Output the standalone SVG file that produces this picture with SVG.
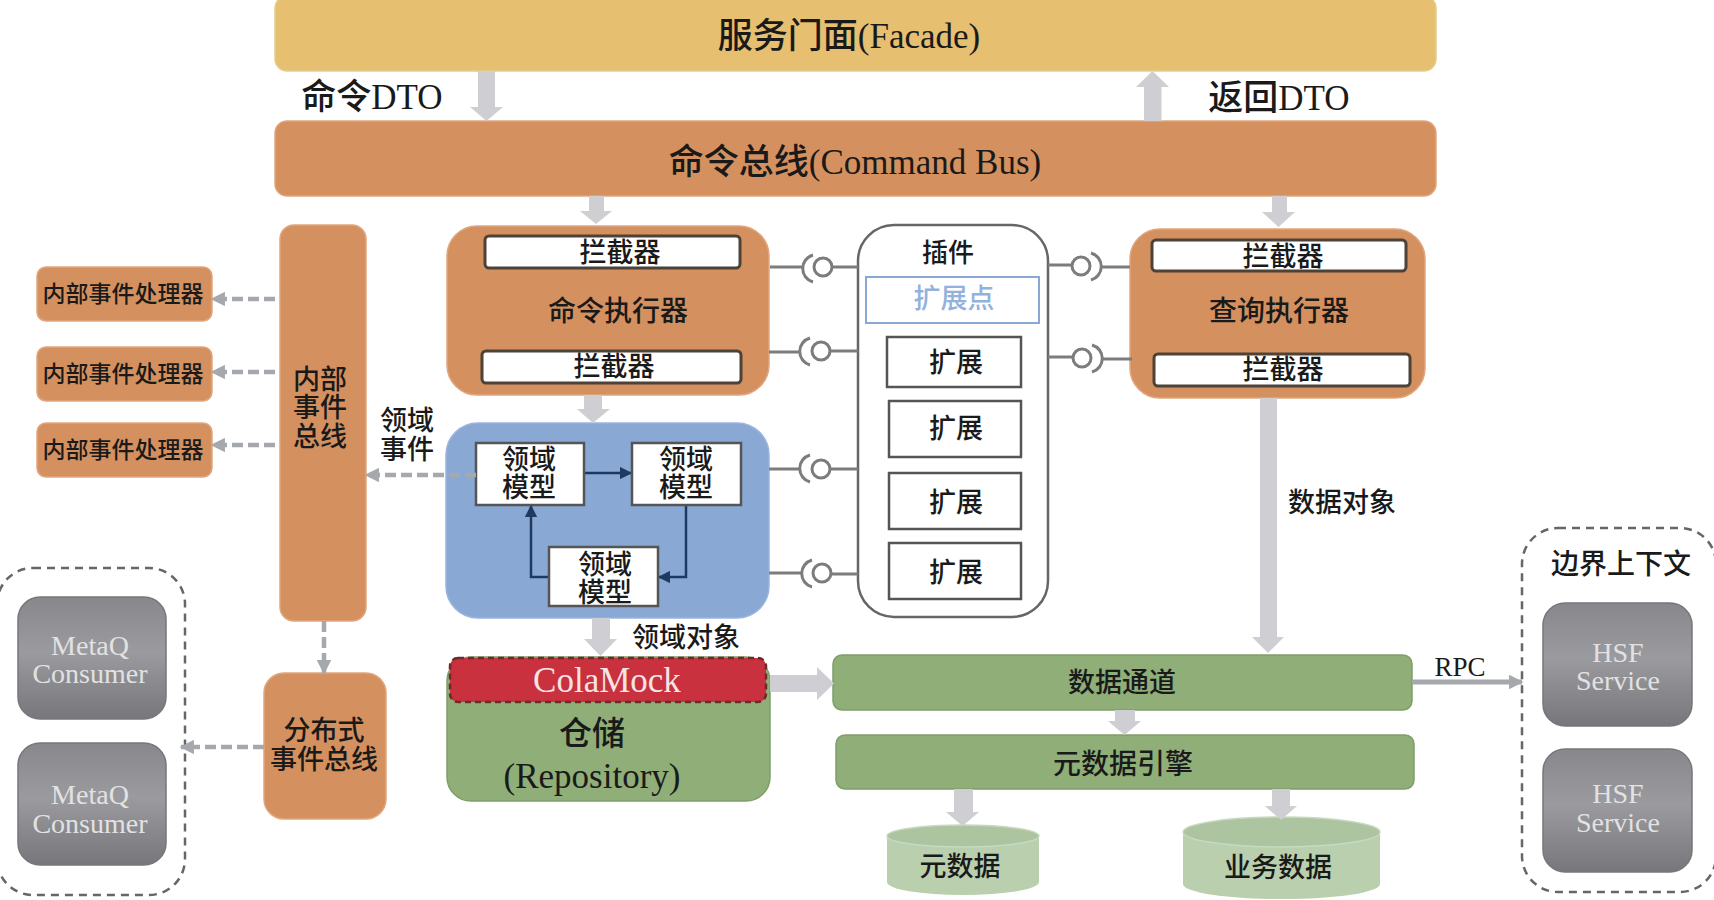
<svg xmlns="http://www.w3.org/2000/svg" width="1714" height="900" viewBox="0 0 1714 900" font-size="27">
<style>
text{font-family:"Liberation Serif","Noto Sans CJK SC",serif;text-anchor:middle;dominant-baseline:central;fill:#1a1a1a;font-weight:500}
.orange{fill:#d4915f;stroke:#e0a67e;stroke-width:1.5}
.green{fill:#8fae78;stroke:#7f9f6a;stroke-width:1.5}
.white{fill:#fff;stroke:#555;stroke-width:2.5}
.int{fill:#fff;stroke:#4d4238;stroke-width:3}
.grey{fill:url(#g);stroke:#77777b;stroke-width:1.5}
.lt{fill:#e2e2e2;font-size:28px}
.thick{fill:#cfcfd3}
.dash{fill:none;stroke:#a5a8ad;stroke-width:4.5;stroke-dasharray:11 5}
.bound{fill:none;stroke:#666;stroke-width:2.5;stroke-dasharray:8 6}
.dark{fill:none;stroke:#1f3a60;stroke-width:2.5}
.lol{fill:none;stroke:#7c7c7c;stroke-width:3}
.cyl{fill:#b9cfae}
.cyltop{fill:#acc4a0;stroke:#c8d9c0;stroke-width:1.5}
</style>
<defs>
<linearGradient id="g" x1="0" y1="0" x2="0" y2="1"><stop offset="0" stop-color="#88888c"/><stop offset=".45" stop-color="#9a9a9f"/><stop offset="1" stop-color="#77777b"/></linearGradient>
<marker id="da" viewBox="0 0 10 10" refX="9" refY="5" markerWidth="3.2" markerHeight="3.2" orient="auto"><path d="M0 0L10 5L0 10Z" fill="#a5a8ad"/></marker>
<marker id="ka" viewBox="0 0 10 10" refX="9" refY="5" markerWidth="5" markerHeight="5" orient="auto"><path d="M0 0L10 5L0 10Z" fill="#1f3a60"/></marker>
<marker id="ra" viewBox="0 0 10 10" refX="9" refY="5" markerWidth="3" markerHeight="3" orient="auto"><path d="M0 0L10 5L0 10Z" fill="#a5a8ad"/></marker>
</defs>

<g id="facade">
<rect x="275" y="-4" width="1161" height="75" rx="12" fill="#e6bf70" stroke="#e6cd8e" stroke-width="1.500"/>
<text x="849" y="36" font-size="35">服务门面(Facade)</text>
</g>
<text id="label-cmd-dto" x="372" y="97" font-size="35">命令DTO</text>
<text id="label-ret-dto" x="1279" y="98" font-size="35">返回DTO</text>
<g id="command-bus">
<rect class="orange" x="275" y="121" width="1161" height="75" rx="12"/>
<text x="855" y="162" font-size="35">命令总线(Command Bus)</text>
</g>

<g id="internal-bus">
<rect class="orange" x="280" y="225" width="86" height="396" rx="14"/>
<text x="320" y="380">内部</text><text x="320" y="408">事件</text><text x="320" y="437">总线</text>
</g>
<g id="handler-1"><rect class="orange" x="37" y="267" width="175" height="54" rx="9"/><text x="123" y="294" font-size="23">内部事件处理器</text></g>
<g id="handler-2"><rect class="orange" x="37" y="347" width="175" height="54" rx="9"/><text x="123" y="374" font-size="23">内部事件处理器</text></g>
<g id="handler-3"><rect class="orange" x="37" y="423" width="175" height="54" rx="9"/><text x="123" y="450" font-size="23">内部事件处理器</text></g>
<g id="label-domain-event"><text x="407" y="421">领域</text><text x="407" y="450">事件</text></g>

<g id="command-executor">
<rect class="orange" x="447" y="226" width="322" height="169" rx="30"/>
<rect class="int" x="485" y="236" width="255" height="32" rx="4"/>
<text x="620" y="253">拦截器</text>
<text x="618" y="311" font-size="28">命令执行器</text>
<rect class="int" x="482" y="351" width="259" height="32" rx="4"/>
<text x="614" y="367">拦截器</text>
</g>

<g id="domain">
<rect x="446" y="423" width="323" height="195" rx="32" fill="#8aa8d4" stroke="#9ab4da" stroke-width="1.500"/>
<path class="dark" d="M584 473H631" marker-end="url(#ka)"/>
<path class="dark" d="M686 505V577H659" marker-end="url(#ka)"/>
<path class="dark" d="M549 577H531V506" marker-end="url(#ka)"/>
<g id="model-1"><rect class="white" x="476" y="443" width="108" height="62"/><text x="529" y="460">领域</text><text x="529" y="488">模型</text></g>
<g id="model-2"><rect class="white" x="632" y="443" width="109" height="62"/><text x="686" y="460">领域</text><text x="686" y="488">模型</text></g>
<g id="model-3"><rect class="white" x="549" y="547" width="109" height="59"/><text x="605" y="565">领域</text><text x="605" y="593">模型</text></g>
</g>

<g id="plugin">
<rect x="858" y="225" width="190" height="392" rx="36" fill="#fff" stroke="#666" stroke-width="2.500"/>
<text x="948" y="253" font-size="26">插件</text>
<rect x="866" y="277" width="173" height="46" fill="#fff" stroke="#8aa8d4" stroke-width="2"/>
<text x="954" y="299" style="fill:#92b2dd">扩展点</text>
<g id="ext-1"><rect class="white" x="887" y="337" width="134" height="50"/><text x="956" y="363">扩展</text></g>
<g id="ext-2"><rect class="white" x="889" y="401" width="132" height="56"/><text x="956" y="429">扩展</text></g>
<g id="ext-3"><rect class="white" x="889" y="473" width="132" height="56"/><text x="956" y="503">扩展</text></g>
<g id="ext-4"><rect class="white" x="889" y="543" width="132" height="56"/><text x="956" y="573">扩展</text></g>
</g>

<g id="query-executor">
<rect class="orange" x="1130" y="229" width="295" height="169" rx="30"/>
<rect class="int" x="1152" y="240" width="254" height="31" rx="4"/>
<text x="1283" y="257">拦截器</text>
<text x="1279" y="311" font-size="28">查询执行器</text>
<rect class="int" x="1154" y="354" width="256" height="32" rx="4"/>
<text x="1283" y="370">拦截器</text>
</g>
<text id="label-data-object" x="1342" y="503">数据对象</text>
<text id="label-domain-object" x="686" y="638">领域对象</text>

<g id="repository">
<rect class="green" x="447" y="657" width="323" height="144" rx="24"/>
<rect x="450" y="658" width="316" height="44" rx="8" fill="#c8313d" stroke="#6e2a2a" stroke-width="2.500" stroke-dasharray="6 4"/>
<text x="607" y="680" font-size="35" style="fill:#f4e4e4">ColaMock</text>
<text x="592" y="734" font-size="33">仓储</text>
<text x="592" y="776" font-size="35">(Repository)</text>
</g>

<g id="data-channel"><rect class="green" x="833" y="655" width="579" height="55" rx="9"/><text x="1122" y="683">数据通道</text></g>
<g id="meta-engine"><rect class="green" x="836" y="735" width="578" height="54" rx="9"/><text x="1123" y="764" font-size="28">元数据引擎</text></g>

<g id="metadata-db">
<path class="cyl" d="M887 836V882A76 13 0 0 0 1039 882V836Z"/>
<ellipse class="cyltop" cx="963" cy="836" rx="76" ry="11"/>
<text x="960" y="867">元数据</text>
</g>
<g id="business-db">
<path class="cyl" d="M1183 832V884A98 15 0 0 0 1380 884V832Z"/>
<ellipse class="cyltop" cx="1281.500" cy="832" rx="98.500" ry="15"/>
<text x="1278" y="868">业务数据</text>
</g>

<g id="dist-bus">
<rect class="orange" x="264" y="673" width="122" height="146" rx="20"/>
<text x="324" y="731">分布式</text><text x="324" y="760">事件总线</text>
</g>

<g id="left-boundary">
<rect class="bound" x="-3" y="568" width="188" height="327" rx="36"/>
<g id="consumer-1"><rect class="grey" x="18" y="597" width="148" height="122" rx="22"/><text class="lt" x="90" y="645">MetaQ</text><text class="lt" x="90" y="673">Consumer</text></g>
<g id="consumer-2"><rect class="grey" x="18" y="743" width="148" height="122" rx="22"/><text class="lt" x="90" y="794">MetaQ</text><text class="lt" x="90" y="823">Consumer</text></g>
</g>

<text id="label-rpc" x="1460" y="667">RPC</text>

<g id="right-boundary">
<rect class="bound" x="1522" y="528" width="194" height="364" rx="36"/>
<text x="1621" y="564" font-size="28">边界上下文</text>
<g id="hsf-1"><rect class="grey" x="1543" y="603" width="149" height="123" rx="22"/><text class="lt" x="1618" y="652">HSF</text><text class="lt" x="1618" y="680">Service</text></g>
<g id="hsf-2"><rect class="grey" x="1543" y="749" width="149" height="123" rx="22"/><text class="lt" x="1618" y="793">HSF</text><text class="lt" x="1618" y="822">Service</text></g>
</g>

<g id="connectors">
<path class="thick" d="M478 71H495V107H503L486.500 121L470 107H478Z"/>
<path class="thick" d="M1144 121V87H1136L1152.500 71L1169 87H1161.500V121Z"/>
<path class="thick" d="M589 196H604V211H612L596 224L580 211H589Z"/>
<path class="thick" d="M1272 196H1287V212H1295L1278.500 227L1262 212H1272Z"/>
<path class="thick" d="M584 395H602V409H610L593 423L577 409H584Z"/>
<path class="thick" d="M592 618H610V639H617L600.500 656L584 639H592Z"/>
<path class="thick" d="M1260 398H1277V637H1284L1268 653L1252 637H1260Z"/>
<path class="thick" d="M770 675H817V667L834 683.500L817 700V692H770Z"/>
<path class="thick" d="M1115 710H1135V721H1141L1124.500 735L1108 721H1115Z"/>
<path class="thick" d="M954 789H973V812H979L962.500 826L946 812H954Z"/>
<path class="thick" d="M1272 789H1290V806H1297L1281 820L1265 806H1272Z"/>
<path class="dash" d="M275 299H212" marker-end="url(#da)"/>
<path class="dash" d="M275 372H212" marker-end="url(#da)"/>
<path class="dash" d="M275 445H212" marker-end="url(#da)"/>
<path class="dash" d="M476 475H366" marker-end="url(#da)"/>
<path class="dash" d="M324 621V673" marker-end="url(#da)"/>
<path class="dash" d="M264 747H181" marker-end="url(#da)"/>
<path d="M1412 682H1522" fill="none" stroke="#a5a8ad" stroke-width="5" marker-end="url(#ra)"/>
<path class="lol" d="M770 267H802M832 267H858M813 255A14 14 0 0 0 813 282"/><circle class="lol" cx="823" cy="267" r="9"/>
<path class="lol" d="M769 352H799M830 351H858M810 338A14 14 0 0 0 810 365"/><circle class="lol" cx="821" cy="351" r="9"/>
<path class="lol" d="M769 469H799M830 469H858M810 455A14 14 0 0 0 810 482"/><circle class="lol" cx="821" cy="469" r="9"/>
<path class="lol" d="M769 573H801M832 574H858M812 560A14 14 0 0 0 812 587"/><circle class="lol" cx="822" cy="573" r="9"/>
<path class="lol" d="M1048 265H1072M1102 267H1130M1091 253A14 14 0 0 1 1091 280"/><circle class="lol" cx="1081" cy="266" r="9"/>
<path class="lol" d="M1048 357H1073M1102 359H1132M1092 345A14 14 0 0 1 1092 372"/><circle class="lol" cx="1082" cy="358" r="9"/>
</g>
</svg>
